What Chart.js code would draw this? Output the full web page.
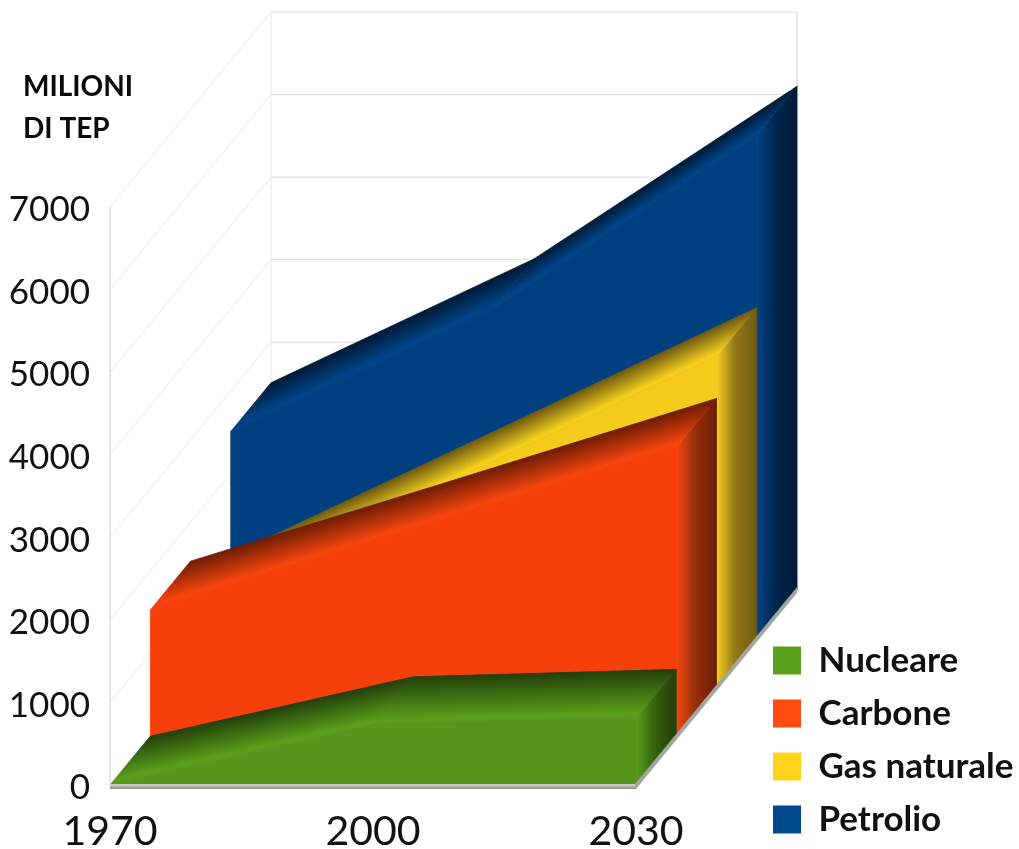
<!DOCTYPE html>
<html>
<head>
<meta charset="utf-8">
<style>
  html, body { margin: 0; padding: 0; background: #fff; }
  canvas { display: block; }
</style>
</head>
<body>
<canvas id="myChart" width="1019" height="849"></canvas>
<script src="https://cdn.jsdelivr.net/npm/chart.js@4/dist/chart.umd.min.js"></script>
<script>
const years = ['1970', '2000', '2030'];
const nucleare = [0, 720, 810];
const carbone = [1530, 2510, 3500];
const gasNaturale = [1010, 2510, 4010];
const petrolio = [2510, 4010, 6100];
const yTitle = ['MILIONI', 'DI TEP'];

// profondita' totale del grafico in pixel
const depthX = 161;
const depthY = -195;
const fontName = 'Lato, sans-serif';

// riempie e ripassa il bordo, cosi' tra due poligoni vicini non resta la cucitura
const fillPoly = (ctx, style, pts) => {
  ctx.fillStyle = style;
  ctx.strokeStyle = style;
  ctx.lineWidth = 0.8;
  ctx.beginPath();
  pts.forEach((p, i) => i ? ctx.lineTo(p[0], p[1]) : ctx.moveTo(p[0], p[1]));
  ctx.closePath();
  ctx.fill();
  ctx.stroke();
};

// area 3D: i dataset non disegnano nulla, ci pensa questo plugin usando le scale
const area3d = {
  id: 'area3d',
  afterLayout(chart) {
    const legend = chart.legend;
    legend.left = 755;
    legend.right = legend.left + legend.width + 60;
    legend.top = 620;
    legend.bottom = 855;
  },
  beforeDatasetsDraw(chart) {
    const ctx = chart.ctx;
    const xs = chart.scales.x;
    const ys = chart.scales.y;
    const left = xs.getPixelForValue(0);
    const right = xs.getPixelForValue(years.length - 1);
    const base = ys.getPixelForValue(0);
    const top = ys.getPixelForValue(7000);

    // pareti e griglia
    ctx.save();
    ctx.lineWidth = 1;
    ys.ticks.forEach(t => {
      const y = ys.getPixelForValue(t.value);
      ctx.strokeStyle = '#e8e8e8';
      ctx.beginPath();
      ctx.moveTo(left, y);
      ctx.lineTo(left + depthX, y + depthY);
      ctx.stroke();
      ctx.strokeStyle = '#dedede';
      ctx.beginPath();
      ctx.moveTo(left + depthX, y + depthY);
      ctx.lineTo(right + depthX, y + depthY);
      ctx.stroke();
    });
    ctx.strokeStyle = '#cfcfcf';
    ctx.beginPath();
    ctx.moveTo(left, top);
    ctx.lineTo(left, base);
    ctx.moveTo(right + depthX, top + depthY);
    ctx.lineTo(right + depthX, base + depthY);
    ctx.stroke();
    ctx.strokeStyle = '#e8e8e8';
    ctx.beginPath();
    ctx.moveTo(left + depthX, top + depthY);
    ctx.lineTo(left + depthX, base + depthY);
    ctx.stroke();

    // dal fondo verso il davanti
    const n = chart.data.datasets.length;
    let g;
    for (let i = n - 1; i >= 0; i--) {
      const ds = chart.data.datasets[i];
      const ox = depthX * i / n;
      const oy = depthY * i / n;
      const dx = depthX / n;
      const dy = depthY / n;
      const pts = ds.data.map((v, k) => ({
        x: xs.getPixelForValue(k) + ox,
        y: ys.getPixelForValue(v) + oy
      }));
      const floorY = base + oy;
      const last = pts[pts.length - 1];

      // fianco destro
      g = ctx.createLinearGradient(last.x, 0, last.x + dx, 0);
      g.addColorStop(0, ds.bright);
      g.addColorStop(0.45, ds.mid);
      g.addColorStop(1, ds.dark);
      fillPoly(ctx, g, [
        [last.x, last.y],
        [last.x + dx, last.y + dy],
        [last.x + dx, floorY + dy],
        [last.x, floorY]
      ]);

      // faccia superiore, un pezzo per ogni segmento
      for (let k = 0; k < pts.length - 1; k++) {
        const a = pts[k];
        const b = pts[k + 1];
        const len = Math.hypot(b.x - a.x, b.y - a.y);
        const nx = (a.y - b.y) / len;
        const ny = (b.x - a.x) / len;
        const d = nx * dx + ny * dy;
        g = ctx.createLinearGradient(a.x, a.y, a.x + nx * d, a.y + ny * d);
        g.addColorStop(0, ds.face);
        g.addColorStop(0.1, ds.bright);
        g.addColorStop(1, ds.dark);
        fillPoly(ctx, g, [
          [a.x, a.y],
          [b.x, b.y],
          [b.x + dx, b.y + dy],
          [a.x + dx, a.y + dy]
        ]);
      }

      // faccia frontale
      fillPoly(ctx, ds.face, [
        [pts[0].x, floorY],
        ...pts.map(p => [p.x, p.y]),
        [last.x, floorY]
      ]);
    }

    // pavimento, bordo davanti e bordo destro
    g = ctx.createLinearGradient(0, base, 0, base + 5);
    g.addColorStop(0, '#c9cbc4');
    g.addColorStop(1, '#7d7d7d');
    ctx.fillStyle = g;
    ctx.fillRect(left, base - 1, right - left, 5);
    ctx.fillStyle = '#a3a59f';
    ctx.beginPath();
    ctx.moveTo(right - 1, base - 1);
    ctx.lineTo(right + depthX, base + depthY - 3);
    ctx.lineTo(right + depthX, base + depthY + 3);
    ctx.lineTo(right, base + 4);
    ctx.closePath();
    ctx.fill();
    ctx.restore();
  },
  afterDraw(chart) {
    const ctx = chart.ctx;
    ctx.save();
    ctx.fillStyle = '#0a0a0a';
    ctx.font = 'bold 28px ' + fontName;
    ctx.textBaseline = 'alphabetic';
    ctx.fillText(yTitle[0], 23, 96);
    ctx.fillText(yTitle[1], 23, 138);
    ctx.restore();
  }
};

const ctx = document.getElementById('myChart').getContext('2d');

const myChart = new Chart(ctx, {
  type: 'line',
  plugins: [area3d],
  data: {
    labels: years,
    datasets: [
      { label: 'Nucleare', data: nucleare, backgroundColor: '#5aa01c', face: '#57961c', bright: '#5aa01a', mid: '#37610f', dark: '#233f0a' },
      { label: 'Carbone', data: carbone, backgroundColor: '#ff4a10', face: '#f5400c', bright: '#f8460e', mid: '#96300a', dark: '#6e1c04' },
      { label: 'Gas naturale', data: gasNaturale, backgroundColor: '#ffd21c', face: '#f5cb1c', bright: '#f6d01e', mid: '#93791a', dark: '#6e5a10' },
      { label: 'Petrolio', data: petrolio, backgroundColor: '#004a8c', face: '#004080', bright: '#004488', mid: '#00264f', dark: '#001a36' }
    ].map(d => ({ ...d, showLine: false, pointRadius: 0, borderWidth: 0, borderColor: 'transparent' }))
  },
  options: {
    responsive: false,
    animation: false,
    layout: { padding: { top: 207, right: 123, left: 0, bottom: 0 } },
    plugins: {
      title: { display: false },
      tooltip: { enabled: false },
      legend: {
        position: 'right',
        align: 'end',
        maxWidth: 260,
        onClick: null,
        labels: {
          boxWidth: 28,
          boxHeight: 28,
          padding: 18,
          color: '#111',
          font: { family: fontName, size: 35, weight: 'bold' }
        }
      }
    },
    scales: {
      x: {
        afterFit(s) { s.height = 64; },
        grid: { display: false },
        border: { display: false },
        ticks: {
          autoSkip: false,
          maxRotation: 0,
          padding: 14,
          color: '#111',
          font: { family: fontName, size: 41 }
        }
      },
      y: {
        min: 0,
        max: 7000,
        afterFit(s) { s.width = 110; },
        grid: { display: false },
        border: { display: false },
        ticks: {
          stepSize: 1000,
          padding: 12,
          labelOffset: 3,
          color: '#111',
          font: { family: fontName, size: 35 },
          callback: v => String(v)
        }
      }
    }
  }
});
</script>
</body>
</html>
